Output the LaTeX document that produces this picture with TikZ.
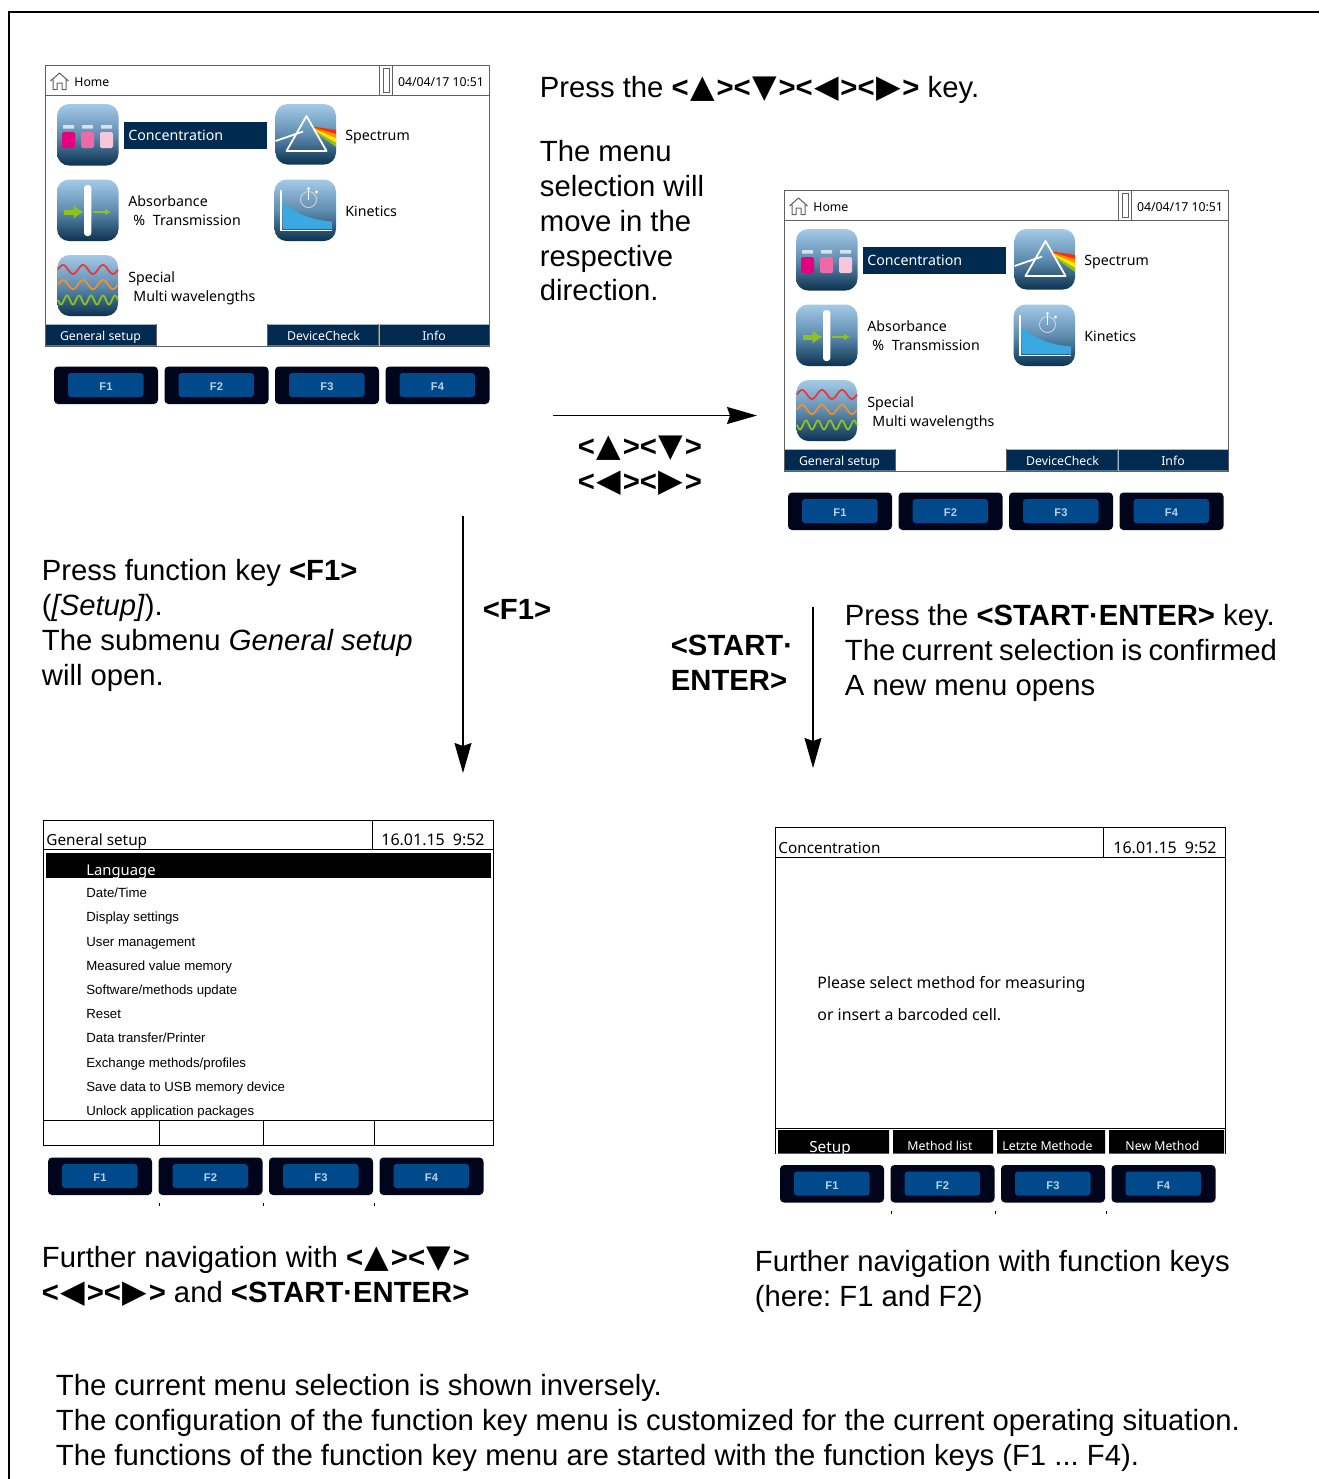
\documentclass[tikz,border=0pt]{standalone}
\usepackage{fontspec}
\usetikzlibrary{arrows.meta}
\setmainfont{Liberation Sans}
\newfontfamily\symfont{DejaVu Sans}
\newfontfamily\uifont{Noto Sans}
\definecolor{navy}{HTML}{002A50}
\definecolor{keydark}{HTML}{00051C}
\definecolor{keyblue}{HTML}{004A8C}
\definecolor{keytext}{HTML}{B8D0E8}
\definecolor{framegray}{HTML}{606060}
\definecolor{icontop}{HTML}{A4CAE8}
\definecolor{iconmid}{HTML}{5F8DB0}
\definecolor{iconbot}{HTML}{0C3250}
\definecolor{wgreen}{HTML}{8DC21F}
\definecolor{wred}{HTML}{E8383A}
\definecolor{worange}{HTML}{F0902A}
\newcommand\SymSize{\fontsize{16pt}{17.45pt}\selectfont}
\newcommand\Up{\kern.8pt{\symfont\SymSize ▲}\kern.8pt}
\newcommand\Dn{\kern.8pt{\symfont\SymSize ▼}\kern.8pt}
\newcommand\Lf{\kern.8pt{\symfont\SymSize ◀}\kern.8pt}
\newcommand\Rt{\kern.8pt{\symfont\SymSize ▶}\kern.8pt}
\tikzset{
  body/.style={anchor=north west,inner sep=0pt,align=left,xshift=-.25pt,yshift=.5pt,font=\fontsize{14.63pt}{17.45pt}\selectfont\frenchspacing},
  uitext/.style={anchor=base west,inner sep=0pt,font=\uifont\fontsize{7.1pt}{9pt}\selectfont},
  uismall/.style={anchor=base,inner sep=0pt,font=\uifont\fontsize{6.15pt}{8pt}\selectfont},
  wintext/.style={anchor=base west,inner sep=0pt,font=\uifont\fontsize{7.65pt}{10pt}\selectfont},
  msgtext/.style={anchor=base west,inner sep=0pt,font=\uifont\fontsize{7.93pt}{10pt}\selectfont},
  datetext/.style={anchor=base west,inner sep=0pt,font=\uifont\fontsize{8pt}{10pt}\selectfont},
  seltext/.style={anchor=base west,inner sep=0pt,text=white,font=\uifont\fontsize{7.4pt}{10pt}\selectfont},
  listitem/.style={anchor=base west,inner sep=0pt,font=\fontsize{6.62pt}{8pt}\selectfont},
  icon/.style={rounded corners=6pt,top color=icontop,bottom color=iconbot,middle color=iconmid},
  keycap/.style={fill=keydark,rounded corners=2pt},
  keyface/.style={fill=keyblue,rounded corners=1.5pt},
  keylabel/.style={text=keytext,inner sep=0pt,font=\fontsize{5.6pt}{6pt}\selectfont\bfseries},
  flow/.style={line width=.75pt,-{Stealth[length=15pt,width=8.5pt,inset=1.5pt]}},
  thin line/.style={line width=.5pt,draw=black},
  graybar/.style={line width=.5pt,draw=framegray}
}
% function keys: left x, top y
\newcommand\FKeys[3]{%
  \begin{scope}[shift={(#2,#3)}]
    \foreach \n/\dx in {1/0,2/110.5,3/221,4/331.5}{
      \path[keycap] (\dx,0) rectangle ++(104,37.5);
      \path[keyface] (\dx+14,6.5) rectangle ++(75.5,24);
      \node[keylabel] (#1F\n) at (\dx+52,20.2) {F\n};
    }
  \end{scope}}
\newcommand\HomeScreen[3]{%
  \begin{scope}[shift={(#2,#3)}]
    \draw[graybar] (45.5,65.5) rectangle (489.5,346);
    \draw[graybar] (45.5,95.5) -- (489.5,95.5) (379.5,65.5) -- (379.5,95.5) (392.5,65.5) -- (392.5,95.5);
    \draw[graybar] (383,68.5) rectangle (389,92.5);
    \draw[graybar,line join=round] (50.5,81) -- (59.5,73) -- (68.5,81) (53,79.5) -- (53,89.5) -- (57,89.5) -- (57,83) -- (62,83) -- (62,89.5) -- (66,89.5) -- (66,79.5);
    \node[uismall,anchor=base west] (#1home) at (74,86) {Home};
    \node[uismall] (#1date) at (441,86) {04/04/17 10:51};
    % selected row
    \path[fill=navy] (123.5,122) rectangle (267,149);
    \node[uitext,text=white] (#1conc) at (128,140) {Concentration};
    \node[uitext] (#1spec) at (345,140) {Spectrum};
    \node[uitext] (#1abs) at (128,206) {Absorbance};
    \node[uitext] (#1trans) at (133,225) {\%\kern2pt{} Transmission};
    \node[uitext] (#1kin) at (345,216) {Kinetics};
    \node[uitext] (#1sp) at (128,282) {Special};
    \node[uitext] (#1mw) at (133,301) {Multi wavelengths};
    % concentration icon
    \path[icon] (57,104) rectangle (118.5,165.5);
    \path[fill=white!75!iconmid] (63,125) rectangle (74,128.5) (82,125) rectangle (93,128.5) (101,125) rectangle (112,128.5);
    \path[fill={rgb,255:red,230;green,0;blue,126},rounded corners=1pt] (62,132) rectangle (75,148);
    \path[fill={rgb,255:red,238;green,106;blue,167},rounded corners=1pt] (81,132) rectangle (94,148);
    \path[fill={rgb,255:red,247;green,198;blue,221},rounded corners=1pt] (100,132) rectangle (113,148);
    % spectrum icon
    \path[icon] (275.5,104) rectangle (336,164.5);
    \path[fill=red!65!orange] (313,126.5) -- (336,130) -- (336,134) -- (313,128) -- cycle;
    \path[fill=orange!90!yellow] (313,127.5) -- (336,134) -- (336,138) -- (313,129) -- cycle;
    \path[fill=yellow!90!orange] (313,128.5) -- (336,138) -- (336,143) -- (313,130) -- cycle;
    \path[fill=wgreen] (313,129.5) -- (336,143) -- (336,147) -- (313,130.5) -- cycle;
    \draw[white,line width=.9pt,line join=round] (306.5,116) -- (326.5,151) -- (286.5,151) -- cycle;
    \draw[white,line width=.9pt] (275.5,141) -- (303,131.5);
    % absorbance icon
    \path[icon] (57,179.5) rectangle (118.5,241);
    \path[fill=white,rounded corners=1.5pt] (84,185) rectangle (91.3,236);
    \draw[wgreen,line width=2.5pt,-{Latex[length=5pt,width=7pt]}] (64,212) -- (83.5,212);
    \draw[wgreen,line width=.8pt,-{Latex[length=3pt,width=3.5pt]}] (93,212) -- (111,212);
    % kinetics icon
    \path[icon] (274.5,179.5) rectangle (336,241);
    \path[fill={rgb,255:red,58;green,169;blue,225}] (282.5,201.5) .. controls (295,214) and (312,220) .. (332,221.5) -- (332,229) -- (282.5,229) -- cycle;
    \draw[white,line width=.9pt] (280.7,190) -- (280.7,230.5) -- (332,230.5);
    \draw[white!70!iconmid,line width=.4pt] (308.5,199.5) circle (8);
    \draw[white,line width=.5pt] (308.5,190) -- (308.5,199.5);
    \path[fill=white] (308.5,188.5) circle (1.6) (316.5,192) circle (1.6);
    % special icon
    \path[icon] (57.5,255) rectangle (118,316);
    \draw[wred,line width=.9pt] plot[domain=58:118,samples=60] (\x,{269.5-4.5*sin(18*(\x-58))});
    \draw[worange,line width=.9pt] plot[domain=58:118,samples=60] (\x,{284.5-4.5*sin(18*(\x-58))});
    \draw[wgreen,line width=.9pt] plot[domain=58:118,samples=90] (\x,{300+4.5*sin(30*(\x-58))});
    % soft keys
    \path[fill=navy] (46,324.5) rectangle (156,345.5) (268,324.5) rectangle (378,345.5) (379.5,324.5) rectangle (489,345.5);
    \draw[graybar] (156.5,324) -- (156.5,346) (267.5,324) -- (267.5,346) (378.5,324) -- (378.5,346);
    \node[uismall,text=white] (#1s1) at (100.5,340) {General setup};
    \node[uismall,text=white] (#1s3) at (323.5,340) {DeviceCheck};
    \node[uismall,text=white] (#1s4) at (434,340) {Info};
  \end{scope}}
\begin{document}
\begin{tikzpicture}[x=.5pt,y=-.5pt]
\useasboundingbox (0,0) rectangle (1319,1479);
\draw[line width=.75pt] (9,1479) -- (9,12) -- (1319,12);

\HomeScreen{a}{0}{0}
\FKeys{a}{54}{366.5}
\HomeScreen{b}{739}{125}
\FKeys{b}{788}{492.5}

% texts
\node[body] (t1) at (540,73.5) {\strut Press the \textbf{<\Up><\Dn><\Lf><\Rt>} key.};
\node[body] (t2) at (540,137.5) {\strut The menu\\selection will\\move in the\\respective\\direction.};
\node[body] (k1) at (578,433) {\strut\textbf{<\Up><\Dn>}\\\textbf{<\Lf><\Rt>}};
\node[body] (t3) at (42,556.5) {\strut Press function key \textbf{<F1>}\\(\textit{[Setup]}).\\The submenu \textit{General setup}\\will open.};
\node[body] (k2) at (483,595.5) {\strut\textbf{<F1>}};
\node[body] (k3) at (671,631.5) {\strut\textbf{<START·}\\\textbf{ENTER>}};
\node[body] (t4) at (845,601.5) {\strut Press the \textbf{<START·ENTER>} key.\\{\spaceskip=3.2pt The current selection is confirmed}\\A new menu opens};
\node[body] (t5) at (42,1243.5) {\strut Further navigation with \textbf{<\Up><\Dn>}\\\textbf{<\Lf><\Rt>} and \textbf{<START·ENTER>}};
\node[body] (t6) at (755,1247.5) {\strut Further navigation with function keys\\(here: F1 and F2)};
\node[body] (t7) at (56,1371.5) {\strut The current menu selection is shown inversely.\\The configuration of the function key menu is customized for the current operating situation.\\The functions of the function key menu are started with the function keys (F1 ... F4).};

% arrows
\coordinate (h1) at (553,415.5);
\coordinate (h2) at (757,415.5);
\coordinate (v1) at (463,516);
\coordinate (v2) at (463,773);
\coordinate (w1) at (813,607);
\coordinate (w2) at (813,768);
\draw[flow] (h1) -- (h2);
\draw[flow] (v1) -- (v2);
\draw[flow] (w1) -- (w2);

% general setup screen
\draw[thin line] (43.5,820.5) rectangle (493.5,1145.5);
\draw[line width=.9pt] (43.5,849.5) -- (493.5,849.5);
\draw[thin line] (372,820.5) -- (372,849.5);
\node[wintext] (gs) at (46,845) {General setup};
\node[datetext] (gd) at (381,845) {16.01.15\hspace{4pt}9:52};
\path[fill=black] (46,853) rectangle (491,878);
\node[seltext] (l0) at (86,875) {Language};
\node[listitem] (l1) at (86,897) {Date/Time};
\node[listitem] (l2) at (86,921) {Display settings};
\node[listitem] (l3) at (86,946) {User management};
\node[listitem] (l4) at (86,970) {Measured value memory};
\node[listitem] (l5) at (86,994) {Software/methods update};
\node[listitem] (l6) at (86,1018) {Reset};
\node[listitem] (l7) at (86,1042) {Data transfer/Printer};
\node[listitem] (l8) at (86,1067) {Exchange methods/profiles};
\node[listitem] (l9) at (86,1091) {Save data to USB memory device};
\node[listitem] (l10) at (86,1115) {Unlock application packages};
\draw[thin line] (43.5,1120.5) -- (493.5,1120.5);
\draw[thin line] (159.5,1120.5) -- (159.5,1145.5) (263.5,1120.5) -- (263.5,1145.5) (374.5,1120.5) -- (374.5,1145.5);
\FKeys{c}{48}{1157.5}
\draw[thin line] (159.5,1203) -- (159.5,1206) (263.5,1203) -- (263.5,1206) (374.5,1203) -- (374.5,1206);

% concentration screen
\path[fill=black] (778,1130) rectangle (889,1153.5) (893,1130) rectangle (993,1153.5) (997,1130) rectangle (1105,1153.5) (1109,1130) rectangle (1224,1153.5);
\draw[thin line] (775.5,1153.5) -- (775.5,827.5) -- (1225.5,827.5) -- (1225.5,1153.5);
\draw[line width=.75pt] (775.5,857.5) -- (1225.5,857.5);
\draw[thin line] (775.5,1128) -- (1225.5,1128);
\draw[thin line] (1103.5,827.5) -- (1103.5,857.5);
\node[wintext] (cs) at (778,853) {Concentration};
\node[datetext] (cd) at (1113,853) {16.01.15\hspace{4pt}9:52};
\node[msgtext] (p1) at (817,988) {Please select method for measuring};
\node[msgtext] (p2) at (817,1020) {or insert a barcoded cell.};
\begin{scope}
\clip (775,1128) rectangle (1226,1154);
\node[wintext,anchor=base,text=white] (s1) at (830,1152) {Setup};
\end{scope}
\node[uismall,text=white] (s2) at (940,1150) {Method list};
\node[uismall,text=white] (s3) at (1047.5,1150) {Letzte Methode};
\node[uismall,text=white] (s4) at (1162.5,1150) {New Method};
\FKeys{d}{780}{1165}
\draw[thin line] (891.5,1211) -- (891.5,1214) (995.5,1211) -- (995.5,1214) (1106.5,1211) -- (1106.5,1214);
\end{tikzpicture}
\end{document}
